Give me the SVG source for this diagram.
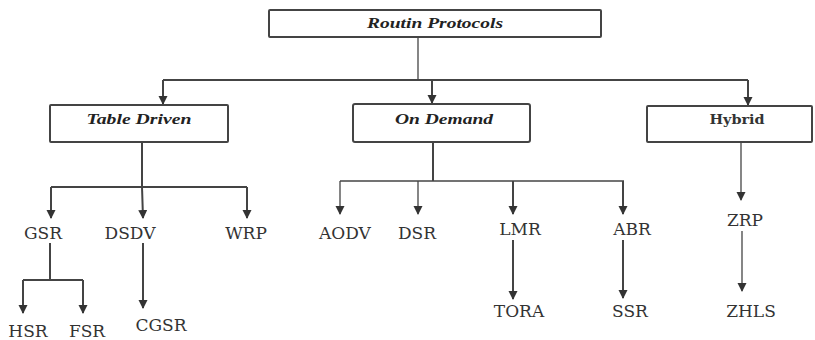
<svg xmlns="http://www.w3.org/2000/svg" width="815" height="340" viewBox="0 0 815 340">
<style>
.box{fill:#fff;stroke:#444;stroke-width:2}
.ln{fill:none;stroke:#444;stroke-width:2}
.thin{fill:none;stroke:#444;stroke-width:1.3}
.hd{font-family:"Liberation Serif",serif;font-size:14px;font-weight:bold;font-style:italic;fill:#222;text-anchor:middle}
.hb{font-family:"DejaVu Serif",serif;font-size:13px;font-weight:bold;fill:#333;text-anchor:middle}
.lb{font-family:"DejaVu Serif",serif;font-size:17px;fill:#333;text-anchor:middle}
</style>
<defs>
<marker id="ah" markerUnits="userSpaceOnUse" markerWidth="10" markerHeight="10" refX="8" refY="4.5" orient="auto">
<path d="M0,0 L9,4.5 L0,9 z" fill="#333"/>
</marker>
</defs>
<g id="connectors">
<line class="thin" x1="418" y1="37" x2="418" y2="80"/>
<line class="ln" x1="163" y1="80" x2="748" y2="80"/>
<line class="ln" x1="163" y1="80" x2="163" y2="104" marker-end="url(#ah)"/>
<line class="ln" x1="432" y1="80" x2="432" y2="103" marker-end="url(#ah)"/>
<line class="ln" x1="748" y1="80" x2="748" y2="105" marker-end="url(#ah)"/>
<line class="ln" x1="142" y1="142" x2="142" y2="187"/>
<line class="ln" x1="51" y1="187" x2="247" y2="187"/>
<line class="ln" x1="51" y1="187" x2="51" y2="218" marker-end="url(#ah)"/>
<line class="ln" x1="142" y1="187" x2="143" y2="218" marker-end="url(#ah)"/>
<line class="ln" x1="247" y1="187" x2="247" y2="218" marker-end="url(#ah)"/>
<line class="ln" x1="433" y1="142" x2="433" y2="181"/>
<line class="thin" x1="340" y1="181" x2="624" y2="181"/>
<line class="thin" x1="340" y1="181" x2="340" y2="214" marker-end="url(#ah)"/>
<line class="thin" x1="418" y1="181" x2="418" y2="214" marker-end="url(#ah)"/>
<line class="ln" x1="513" y1="181" x2="513" y2="214" marker-end="url(#ah)"/>
<line class="ln" x1="623" y1="181" x2="623" y2="214" marker-end="url(#ah)"/>
<line class="thin" x1="741" y1="142" x2="741" y2="200" marker-end="url(#ah)"/>
<line class="ln" x1="50" y1="243" x2="50" y2="280"/>
<line class="ln" x1="23" y1="280" x2="83" y2="280"/>
<line class="ln" x1="23" y1="280" x2="23" y2="313" marker-end="url(#ah)"/>
<line class="ln" x1="83" y1="280" x2="83" y2="313" marker-end="url(#ah)"/>
<line class="ln" x1="143" y1="243" x2="143" y2="308" marker-end="url(#ah)"/>
<line class="ln" x1="513" y1="240" x2="513" y2="299" marker-end="url(#ah)"/>
<line class="ln" x1="623" y1="240" x2="623" y2="298" marker-end="url(#ah)"/>
<line class="thin" x1="742" y1="231" x2="742" y2="291" marker-end="url(#ah)"/>
</g>
<g id="routin-protocols"><rect class="box" x="269" y="10" width="332" height="27" rx="1"/><text class="hd" x="435" y="28" textLength="136" lengthAdjust="spacingAndGlyphs">Routin Protocols</text></g>
<g id="table-driven"><rect class="box" x="50" y="105" width="178" height="37" rx="1"/><text class="hd" x="139" y="124" textLength="105" lengthAdjust="spacingAndGlyphs">Table Driven</text></g>
<g id="on-demand"><rect class="box" x="353" y="104" width="177" height="38" rx="2"/><text class="hd" x="444" y="124" textLength="98" lengthAdjust="spacingAndGlyphs">On Demand</text></g>
<g id="hybrid"><rect class="box" x="647" y="106" width="165" height="36" rx="1"/><text class="hb" x="737" y="124" textLength="55" lengthAdjust="spacingAndGlyphs">Hybrid</text></g>
<g id="gsr"><text class="lb" x="43" y="239">GSR</text></g>
<g id="dsdv"><text class="lb" x="130" y="239">DSDV</text></g>
<g id="wrp"><text class="lb" x="246" y="239">WRP</text></g>
<g id="hsr"><text class="lb" x="28" y="337">HSR</text></g>
<g id="fsr"><text class="lb" x="87" y="337">FSR</text></g>
<g id="cgsr"><text class="lb" x="161" y="331">CGSR</text></g>
<g id="aodv"><text class="lb" x="345" y="239">AODV</text></g>
<g id="dsr"><text class="lb" x="417" y="239">DSR</text></g>
<g id="lmr"><text class="lb" x="520" y="235">LMR</text></g>
<g id="abr"><text class="lb" x="632" y="235">ABR</text></g>
<g id="tora"><text class="lb" x="519" y="317">TORA</text></g>
<g id="ssr"><text class="lb" x="630" y="317">SSR</text></g>
<g id="zrp"><text class="lb" x="745" y="226">ZRP</text></g>
<g id="zhls"><text class="lb" x="751" y="317">ZHLS</text></g>
</svg>
